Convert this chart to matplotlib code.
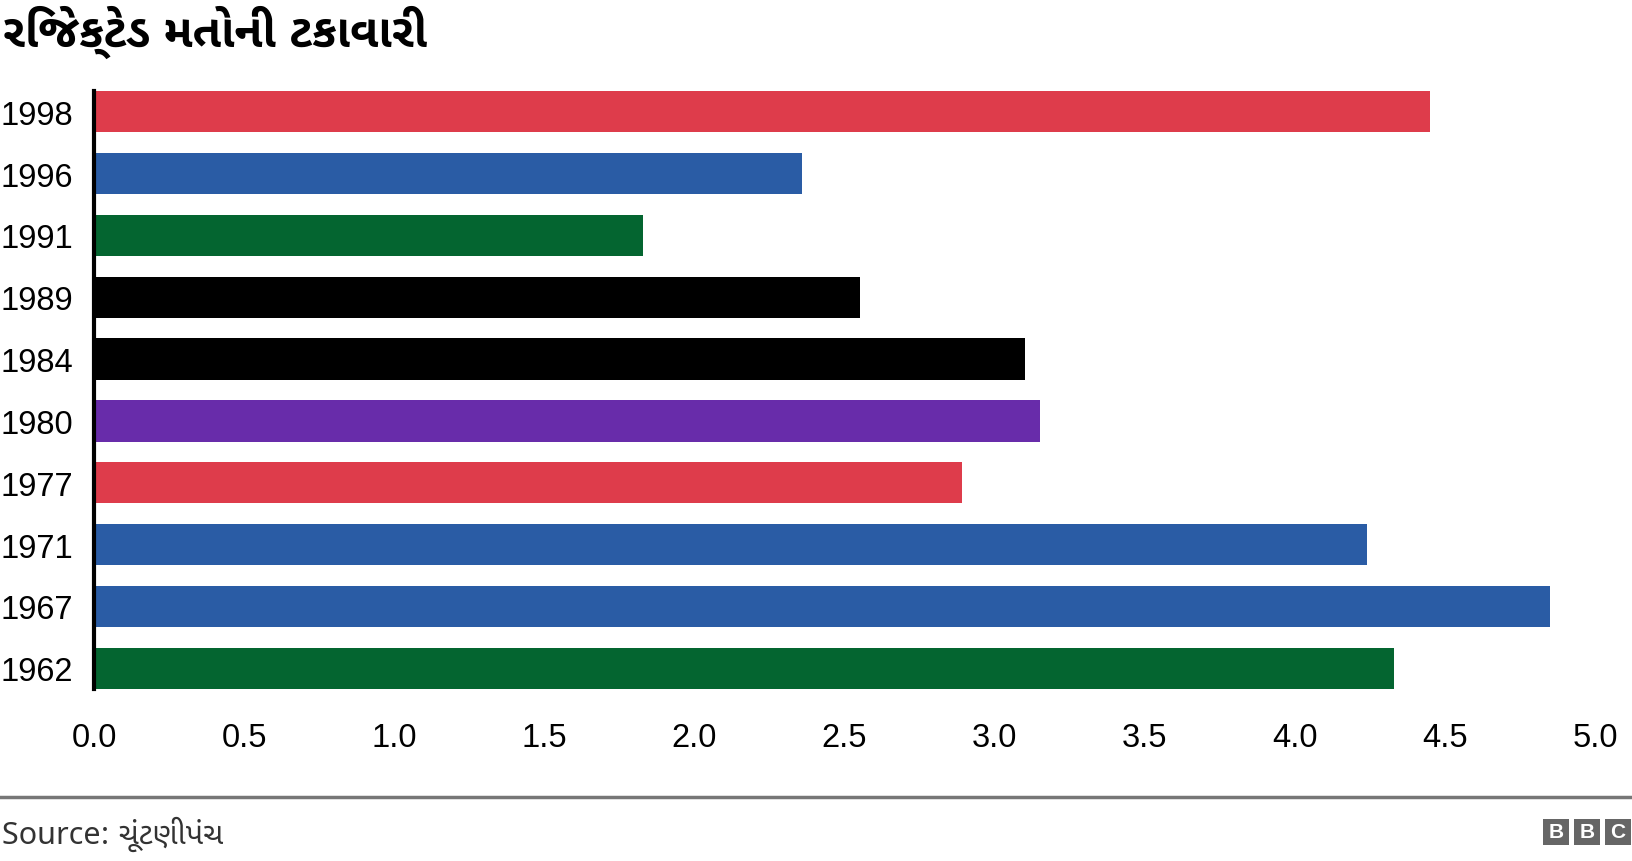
import numpy as np
import matplotlib.pyplot as plt
from matplotlib.patches import Rectangle

# data
years = ['1998', '1996', '1991', '1989', '1984', '1980', '1977', '1971', '1967', '1962']
rejected_pct = [4.45, 2.36, 1.83, 2.55, 3.10, 3.15, 2.89, 4.24, 4.85, 4.33]
bar_colors = ['#DE3C4B', '#2A5CA5', '#046530', '#000000', '#000000',
              '#682CAA', '#DE3C4B', '#2A5CA5', '#2A5CA5', '#046530']
x_ticks = [0.0, 0.5, 1.0, 1.5, 2.0, 2.5, 3.0, 3.5, 4.0, 4.5, 5.0]

title = 'રિજેક્ટેડ મતોની ટકાવારી'
source = 'Source: ચૂંટણીપંચ'

guj = ['Noto Sans Gujarati UI', 'Noto Sans', 'DejaVu Sans']
plt.rcParams['font.family'] = ['Liberation Sans', 'Noto Sans Gujarati UI', 'DejaVu Sans']

fig = plt.figure(figsize=(16.32, 8.62), dpi=100)
ax = fig.add_axes([94 / 1632, 1 - 690 / 862, (1595 - 94) / 1632, (690 - 92) / 862])

pos = np.arange(len(years))
ax.barh(pos, rejected_pct, height=0.67, color=bar_colors)
ax.set_ylim(len(years) - 1 + 0.335, -0.335)
ax.set_xlim(0, 5.0)

ax.set_yticks(pos)
ax.set_yticklabels(years, fontsize=23.5)
ax.set_xticks(x_ticks)
ax.set_xticklabels([f'{t:.1f}' for t in x_ticks], fontsize=23.5)
ax.tick_params(axis='both', length=0)
ax.tick_params(axis='x', pad=24)
ax.tick_params(axis='y', pad=15)

for side in ['top', 'right', 'bottom']:
    ax.spines[side].set_visible(False)
ax.spines['left'].set_linewidth(3)
ax.spines['left'].set_color('black')

fig.text(0.002, 0.962, title, fontsize=33, fontweight='bold', va='center', ha='left',
         family=guj)

# footer
fig.add_artist(plt.Line2D([0, 1], [1 - 798 / 862, 1 - 798 / 862], color='#777777', linewidth=2.5,
                          transform=fig.transFigure))
fig.text(0.001, 1 - 834 / 862, source, fontsize=22, color='#333333', va='center', ha='left',
         family=guj)

# bbc logo
box_w, box_h, gap = 26 / 1632, 26 / 862, 5 / 1632
x0 = 1543 / 1632
y0 = 1 - 846 / 862
for i, letter in enumerate('BBC'):
    bx = x0 + i * (box_w + gap)
    fig.add_artist(Rectangle((bx, y0), box_w, box_h, transform=fig.transFigure,
                             facecolor='#666666', edgecolor='none'))
    fig.text(bx + box_w / 2, y0 + box_h / 2, letter, color='white', fontsize=15,
             fontweight='bold', ha='center', va='center')

fig.savefig('out.png', dpi=100)
